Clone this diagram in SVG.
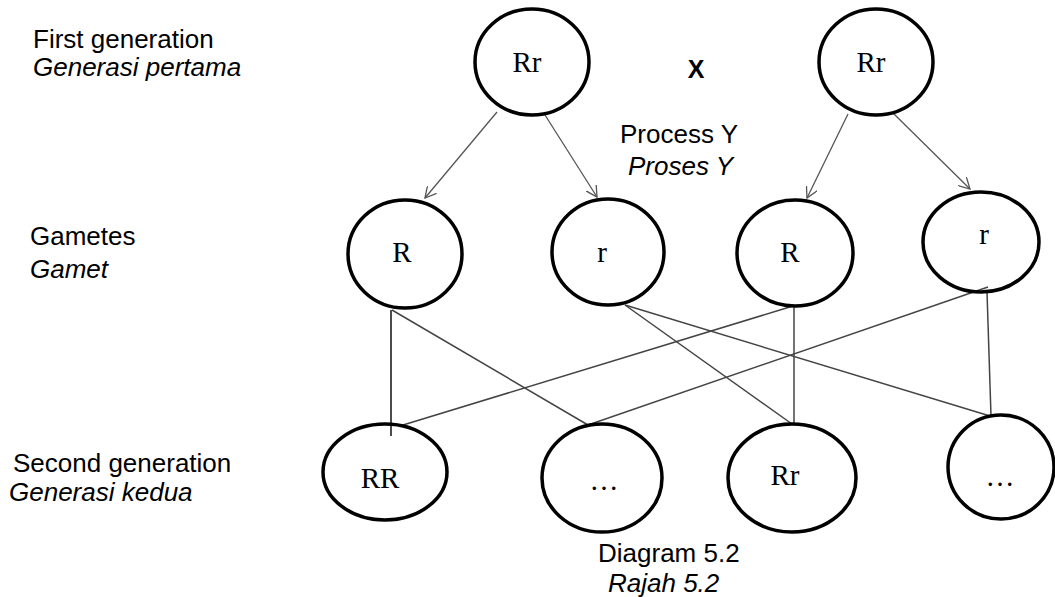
<svg xmlns="http://www.w3.org/2000/svg" width="1055" height="597" viewBox="0 0 1055 597">
<style>
.lbl{font-family:"Liberation Sans",Arial,sans-serif;font-size:26px;fill:#000}
.it{font-style:italic}
.node ellipse{fill:none;stroke:#000;stroke-width:3.5}
.node text{font-family:"Liberation Serif","Times New Roman",serif;font-size:29px;fill:#000;text-anchor:middle}
.conn line{stroke:#444;stroke-width:1.5}
.arr line{stroke:#555;stroke-width:1.3}
</style>
<defs>
<marker id="ah" viewBox="0 0 12 12" refX="11" refY="6" markerWidth="12" markerHeight="12" markerUnits="userSpaceOnUse" orient="auto">
<path d="M0,0 L11,6 L0,12" fill="none" stroke="#555" stroke-width="1.3"/>
</marker>
</defs>
<rect width="1055" height="597" fill="#fff"/>

<g id="labels">
<text class="lbl" x="33" y="48">First generation</text>
<text class="lbl it" x="33" y="76">Generasi pertama</text>
<text class="lbl" x="30" y="245">Gametes</text>
<text class="lbl it" x="30" y="278">Gamet</text>
<text class="lbl" x="13" y="472">Second generation</text>
<text class="lbl it" x="9" y="501">Generasi kedua</text>
<text class="lbl" x="620" y="143">Process Y</text>
<text class="lbl it" x="628" y="175">Proses Y</text>
<text class="lbl" x="696" y="78" style="font-weight:bold;text-anchor:middle;font-size:25px">X</text>
<text class="lbl" x="598" y="562">Diagram 5.2</text>
<text class="lbl it" x="608" y="592">Rajah 5.2</text>
</g>

<g id="connectors">
<g class="arr">
<line x1="497" y1="112" x2="425" y2="198" marker-end="url(#ah)"/>
<line x1="545" y1="115" x2="597" y2="197" marker-end="url(#ah)"/>
<line x1="848" y1="114" x2="807" y2="198" marker-end="url(#ah)"/>
<line x1="893" y1="113" x2="970" y2="189" marker-end="url(#ah)"/>
</g>
<g class="conn">
<line x1="391" y1="310" x2="391" y2="436" style="stroke:#111"/>
<line x1="392" y1="310" x2="588" y2="425"/>
<line x1="625" y1="305" x2="792" y2="424"/>
<line x1="625" y1="305" x2="990" y2="416"/>
<line x1="794" y1="305" x2="794" y2="424"/>
<line x1="793" y1="306" x2="403" y2="425"/>
<line x1="988" y1="287" x2="588" y2="425"/>
<line x1="987" y1="292" x2="991" y2="416"/>
</g>
</g>

<g id="p1" class="node"><ellipse cx="532" cy="62" rx="57" ry="53"/><text x="527" y="72">Rr</text></g>
<g id="p2" class="node"><ellipse cx="876" cy="62" rx="57" ry="53"/><text x="871" y="72">Rr</text></g>

<g id="g1" class="node"><ellipse cx="405" cy="254" rx="57" ry="54"/><text x="402" y="262">R</text></g>
<g id="g2" class="node"><ellipse cx="608" cy="252" rx="56" ry="53"/><text x="602" y="262">r</text></g>
<g id="g3" class="node"><ellipse cx="795" cy="253" rx="58" ry="53"/><text x="790" y="262">R</text></g>
<g id="g4" class="node"><ellipse cx="981" cy="242" rx="58" ry="50"/><text x="984" y="244">r</text></g>

<g id="o1" class="node"><ellipse cx="385" cy="472" rx="62" ry="48"/><text x="380" y="488">RR</text></g>
<g id="o2" class="node"><ellipse cx="602" cy="478" rx="60" ry="54"/><text x="604" y="490">…</text></g>
<g id="o3" class="node"><ellipse cx="792" cy="478" rx="64" ry="54"/><text x="785" y="485">Rr</text></g>
<g id="o4" class="node"><ellipse cx="1001" cy="467" rx="53" ry="52"/><text x="1000" y="486">…</text></g>
</svg>
